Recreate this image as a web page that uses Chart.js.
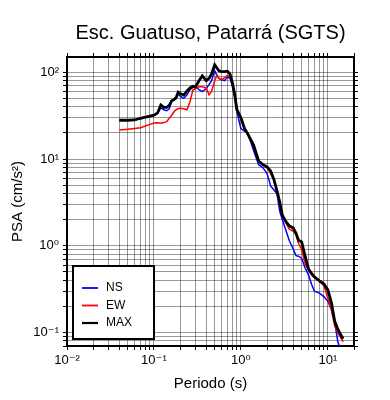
<!DOCTYPE html>
<html>
<head>
<meta charset="utf-8">
<script src="https://cdn.jsdelivr.net/npm/chart.js@4.4.1/dist/chart.umd.min.js"></script>
<style>
html, body { margin: 0; padding: 0; background: #fff; }
canvas { display: block; }
</style>
</head>
<body>
<canvas id="psaChart" width="390" height="400"></canvas>
<script>
// periodos (s) y espectros PSA (cm/s2)
const periods = [0.04, 0.05, 0.06, 0.07, 0.08, 0.09, 0.1, 0.11, 0.12, 0.13, 0.14, 0.15, 0.16, 0.17, 0.18, 0.19, 0.2, 0.22, 0.24, 0.26, 0.28, 0.3, 0.33, 0.36, 0.4, 0.43, 0.46, 0.5, 0.53, 0.56, 0.6, 0.65, 0.7, 0.75, 0.8, 0.85, 0.9, 1.0, 1.1, 1.2, 1.4, 1.6, 1.8, 2.0, 2.2, 2.4, 2.6, 2.8, 3.0, 3.3, 3.6, 4.0, 4.3, 4.6, 5.0, 5.5, 6.0, 6.5, 7.0, 8.0, 9.0, 10, 11, 12, 13, 14, 15];
const psaNS = [28, 28, 28.2, 29.5, 30.5, 31.3, 32, 33.5, 39, 37, 36, 38, 46, 48, 50, 57, 53, 50, 55, 63, 67, 69, 63, 60, 65, 72, 80, 104, 92, 85, 82, 80, 88, 85, 70, 52, 35, 22.5, 21, 19.8, 12.5, 8.6, 7.9, 6.8, 4.9, 4.4, 4.0, 2.5, 2.0, 1.5, 1.15, 0.92, 0.77, 0.76, 0.72, 0.55, 0.46, 0.36, 0.3, 0.285, 0.26, 0.23, 0.185, 0.13, 0.08, 0.062, 0.05];
const psaEW = [21.6, 22, 22.5, 23, 24, 25.1, 26, 26.2, 25.8, 26.3, 27, 29.5, 32, 35, 37, 38, 38.4, 38, 37, 46, 62, 65, 68, 68, 66, 55, 60, 80, 93, 85, 82, 87, 92, 88, 70, 52, 36, 29, 22, 19, 14.2, 9.6, 8.5, 8.0, 6.8, 5.8, 4.3, 3.1, 2.2, 1.85, 1.55, 1.47, 1.35, 1.07, 0.9, 0.62, 0.52, 0.46, 0.43, 0.39, 0.35, 0.25, 0.18, 0.12, 0.1, 0.088, 0.078];
const psaMAX = [28, 28, 28.2, 29.5, 30.5, 31.3, 32, 34, 42, 39.5, 39.5, 41.5, 47, 48.5, 51, 59, 57, 54.7, 61, 66, 69, 68, 80, 91, 80, 85, 96, 122, 112, 104, 102, 102, 103, 95, 75, 55, 37, 30, 22.5, 19.5, 14.5, 9.5, 8.6, 8.1, 7.3, 5.8, 4.3, 3.2, 2.25, 1.9, 1.7, 1.6, 1.4, 1.16, 1.11, 0.75, 0.54, 0.48, 0.44, 0.395, 0.365, 0.31, 0.22, 0.135, 0.11, 0.095, 0.085];

const seriesNames = ["NS", "EW", "MAX"];
const seriesColors = ["#0000ff", "#ff0000", "#000000"];
const chartTitle = "Esc. Guatuso, Patarrá (SGTS)";
const xTitle = "Periodo (s)";
const yTitle = "PSA (cm/s²)";
const fontFam = "'Liberation Sans', Arial, 'DejaVu Sans', sans-serif";

const sup = { "-": "⁻", "0": "⁰", "1": "¹", "2": "²", "3": "³" };

function logTicks(min, max) {
    let out = [];
    for (let e = -3; e <= 3; e++) {
        for (let k = 1; k <= 9; k++) {
            let v = parseFloat((k * Math.pow(10, e)).toPrecision(3));
            if (v >= min - 1e-12 && v <= max + 1e-12) out.push({ value: v });
        }
    }
    return out;
}

function decadeLabel(v) {
    let e = Math.log10(v);
    if (Math.abs(e - Math.round(e)) > 1e-6) return "";
    return "10" + String(Math.round(e)).split("").map(c => sup[c]).join("");
}

function toPoints(vals) {
    return periods.map((p, i) => ({ x: p, y: vals[i] }));
}

const titlePlugin = {
    id: "plotTitle",
    afterDraw(chart) {
        let ctx = chart.ctx, a = chart.chartArea;
        ctx.save();
        ctx.font = "20px " + fontFam;
        ctx.fillStyle = "#000";
        ctx.textAlign = "center";
        ctx.textBaseline = "middle";
        ctx.fillText(chartTitle, (a.left + a.right) / 2, 33);
        ctx.restore();
    }
};

const legendBox = {
    id: "legendBox",
    afterDatasetsDraw(chart) {
        let ctx = chart.ctx, a = chart.chartArea;
        let x0 = a.left + 6, y0 = a.bottom - 80, w = 81, h = 73;
        ctx.save();
        ctx.fillStyle = "#fff";
        ctx.fillRect(x0, y0, w, h);
        ctx.lineWidth = 2;
        ctx.strokeStyle = "#000";
        ctx.strokeRect(x0, y0, w, h);
        ctx.font = "12px " + fontFam;
        ctx.textBaseline = "middle";
        chart.data.datasets.forEach((ds, i) => {
            let y = y0 + 22 + i * 17.5;
            ctx.strokeStyle = ds.borderColor;
            ctx.lineWidth = i === 2 ? 2.2 : 1.8;
            ctx.beginPath();
            ctx.moveTo(x0 + 9, y);
            ctx.lineTo(x0 + 25, y);
            ctx.stroke();
            ctx.fillStyle = "#000";
            ctx.fillText(ds.label, x0 + 33, y);
        });
        ctx.restore();
    }
};

const gridStyle = { color: "rgba(0,0,0,0.4)", lineWidth: 1, tickColor: "#000", tickLength: 4 };
const frame = { color: "#000", width: 2 };

new Chart(document.getElementById("psaChart").getContext("2d"), {
    type: "line",
    data: {
        datasets: [
            { label: seriesNames[0], data: toPoints(psaNS), borderColor: seriesColors[0], borderWidth: 1.5, order: 2 },
            { label: seriesNames[1], data: toPoints(psaEW), borderColor: seriesColors[1], borderWidth: 1.5, order: 1 },
            { label: seriesNames[2], data: toPoints(psaMAX), borderColor: seriesColors[2], borderWidth: 2.8, order: 0 }
        ]
    },
    options: {
        responsive: false,
        animation: false,
        devicePixelRatio: 1,
        layout: { padding: 0 },
        elements: { point: { radius: 0 }, line: { tension: 0, fill: false } },
        plugins: { legend: { display: false }, tooltip: { enabled: false }, title: { display: false } },
        scales: {
            x: {
                type: "logarithmic", position: "bottom", min: 0.01, max: 20,
                afterBuildTicks: s => { s.ticks = logTicks(0.01, 20); },
                afterFit: s => { s.height = 54; },
                grid: gridStyle, border: frame,
                ticks: { autoSkip: false, maxRotation: 0, minRotation: 0, padding: 3, color: "#000",
                         font: { family: fontFam, size: 13 }, callback: v => decadeLabel(v) },
                title: { display: true, text: xTitle, color: "#000", font: { family: fontFam, size: 15 }, padding: { top: 0, bottom: 7.5 } }
            },
            x2: {
                type: "logarithmic", position: "top", min: 0.01, max: 20,
                afterBuildTicks: s => { s.ticks = logTicks(0.01, 20); },
                afterFit: s => { s.height = 57; },
                grid: Object.assign({}, gridStyle, { drawOnChartArea: false }), border: frame,
                ticks: { display: false, autoSkip: false }
            },
            y: {
                type: "logarithmic", position: "left", min: 0.07, max: 150,
                afterBuildTicks: s => { s.ticks = logTicks(0.07, 150); },
                afterFit: s => { s.width = 67; },
                grid: gridStyle, border: frame,
                ticks: { autoSkip: false, padding: 4, color: "#000",
                         font: { family: fontFam, size: 13 }, callback: v => decadeLabel(v) },
                title: { display: true, text: yTitle, color: "#000", font: { family: fontFam, size: 15 }, padding: { top: 9, bottom: 0 } }
            },
            y2: {
                type: "logarithmic", position: "right", min: 0.07, max: 150,
                afterBuildTicks: s => { s.ticks = logTicks(0.07, 150); },
                afterFit: s => { s.width = 36; },
                grid: Object.assign({}, gridStyle, { drawOnChartArea: false }), border: frame,
                ticks: { display: false, autoSkip: false }
            }
        }
    },
    plugins: [titlePlugin, legendBox]
});
</script>
</body>
</html>
